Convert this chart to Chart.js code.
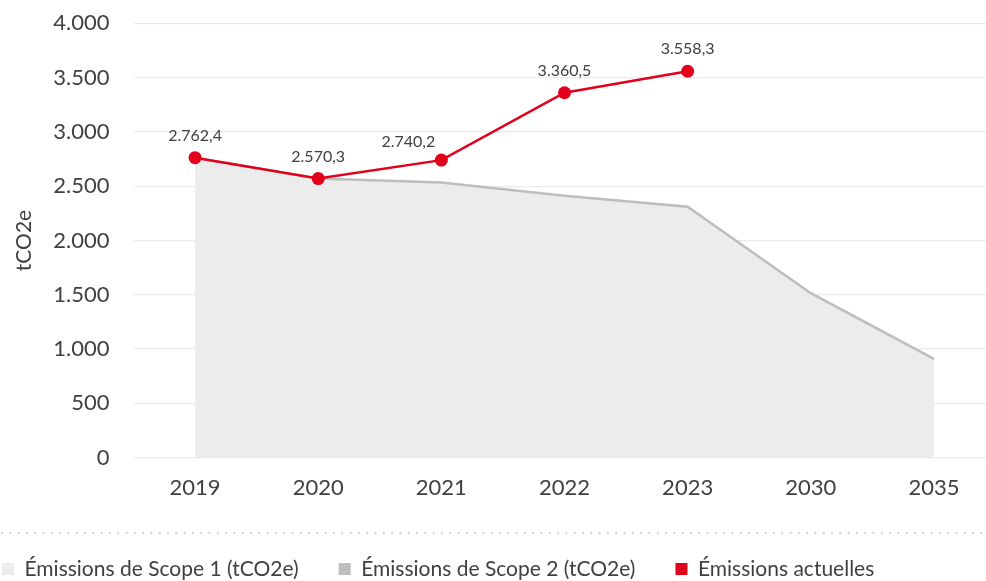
<!DOCTYPE html>
<html lang="fr">
<head>
<meta charset="utf-8">
<title>Émissions de GES</title>
<script src="https://cdn.jsdelivr.net/npm/chart.js@4.4.1/dist/chart.umd.min.js"></script>
<style>
  html, body { margin: 0; padding: 0; background: #fff; overflow: hidden; }
  #wrap { position: relative; width: 986px; height: 581px; overflow: hidden; }
  #emissionsChart { position: absolute; left: -38px; top: 0; }
</style>
</head>
<body>
<div id="wrap">
  <canvas id="emissionsChart" width="1040" height="581"></canvas>
</div>
<script>
// Years on the x axis
const years = ['2019', '2020', '2021', '2022', '2023', '2030', '2035'];
// Reduction path (Scope 1 + 2), tCO2e
const trajectory = [2762.4, 2570.3, 2535, 2413, 2311, 1515, 910];
// Measured emissions, tCO2e
const actualEmissions = [2762.4, 2570.3, 2740.2, 3360.5, 3558.3, null, null];
// Y axis
const yMin = 0;
const yMax = 4000;
const yStep = 500;

const RED = '#e2001a';
const TEXT = '#404040';
const FONT = 'Lato, "Open Sans", sans-serif';

// 1234.5 -> "1.234,5"
function formatNumber(v, decimals) {
  const parts = v.toFixed(decimals).split('.');
  const intPart = parts[0].replace(/\B(?=(\d{3})+(?!\d))/g, '.');
  return parts[1] ? intPart + ',' + parts[1] : intPart;
}

// value labels above the red points
const valueLabels = {
  id: 'valueLabels',
  afterDatasetsDraw(chart, args, opts) {
    const ctx = chart.ctx;
    chart.data.datasets.forEach((ds, di) => {
      if (!ds.showValues) return;
      const meta = chart.getDatasetMeta(di);
      meta.data.forEach((pt, i) => {
        const v = ds.data[i];
        if (v == null) return;
        const shift = opts.shift[i] || [0, 0];
        ctx.save();
        ctx.font = '16px ' + FONT;
        ctx.fillStyle = TEXT;
        ctx.textAlign = 'center';
        ctx.textBaseline = 'middle';
        ctx.fillText(formatNumber(v, 1), pt.x + shift[0], pt.y - 22 + shift[1]);
        ctx.restore();
      });
    });
  }
};

// dotted rule between the plot and the legend
const separator = {
  id: 'separator',
  afterDraw(chart) {
    const ctx = chart.ctx;
    const y = chart.legend.top + 14.5;
    ctx.save();
    ctx.strokeStyle = '#c6c6c6';
    ctx.lineWidth = 2;
    ctx.lineCap = 'round';
    ctx.setLineDash([0, 8.3]);
    ctx.beginPath();
    ctx.moveTo(40, y);
    ctx.lineTo(chart.width, y);
    ctx.stroke();
    ctx.restore();
  }
};

const ctx = document.getElementById('emissionsChart').getContext('2d');
new Chart(ctx, {
  type: 'line',
  data: {
    labels: years,
    datasets: [
      {
        label: 'Émissions de Scope 1 (tCO2e)',
        data: trajectory,
        fill: 'origin',
        backgroundColor: '#ececec',
        borderColor: 'rgba(0,0,0,0)',
        borderWidth: 0,
        pointRadius: 0,
        tension: 0,
        order: 2
      },
      {
        label: 'Émissions de Scope 2 (tCO2e)',
        data: trajectory,
        fill: false,
        backgroundColor: '#bdbdbd',
        borderColor: '#bdbdbd',
        borderWidth: 2.5,
        pointRadius: 0,
        tension: 0,
        order: 1
      },
      {
        label: 'Émissions actuelles',
        data: actualEmissions,
        fill: false,
        backgroundColor: RED,
        borderColor: RED,
        borderWidth: 2.5,
        pointRadius: 6.5,
        pointHoverRadius: 6.5,
        pointBackgroundColor: RED,
        pointBorderWidth: 0,
        tension: 0,
        showValues: true,
        order: 0
      }
    ]
  },
  options: {
    responsive: false,
    animation: false,
    layout: { padding: { top: 23.3, right: 1.5, bottom: -8.5, left: 0 } },
    scales: {
      x: {
        offset: true,
        grid: { display: false, drawTicks: false },
        border: { display: false },
        ticks: { color: TEXT, font: { family: FONT, size: 22 }, padding: 17.5 },
        afterFit(scale) { scale.height = 60.8; }
      },
      y: {
        min: yMin,
        max: yMax,
        grid: {
          color: '#ebebeb',
          lineWidth: 1.3,
          drawTicks: true,
          tickLength: 24,
          tickColor: 'rgba(0,0,0,0)'
        },
        border: { display: false },
        ticks: {
          stepSize: yStep,
          color: TEXT,
          font: { family: FONT, size: 22 },
          padding: 0,
          callback: (v) => formatNumber(v, 0)
        },
        title: {
          display: true,
          text: 'tCO2e',
          color: TEXT,
          font: { family: FONT, size: 21 },
          padding: { top: 50, bottom: 0 }
        },
        afterFit(scale) { scale.width = 171.5; }
      }
    },
    plugins: {
      filler: { drawTime: 'beforeDatasetsDraw' },
      tooltip: { enabled: false },
      legend: {
        position: 'bottom',
        align: 'start',
        reverse: true,
        labels: {
          boxWidth: 12,
          boxHeight: 12,
          padding: 40,
          color: TEXT,
          font: { family: FONT, size: 21 },
          generateLabels(chart) {
            const items = Chart.defaults.plugins.legend.labels.generateLabels(chart);
            items.forEach((it) => { it.lineWidth = 0; it.strokeStyle = 'rgba(0,0,0,0)'; });
            return items;
          }
        }
      },
      valueLabels: { shift: { 2: [-33, 4] } }
    }
  },
  plugins: [valueLabels, separator]
});
</script>
</body>
</html>
